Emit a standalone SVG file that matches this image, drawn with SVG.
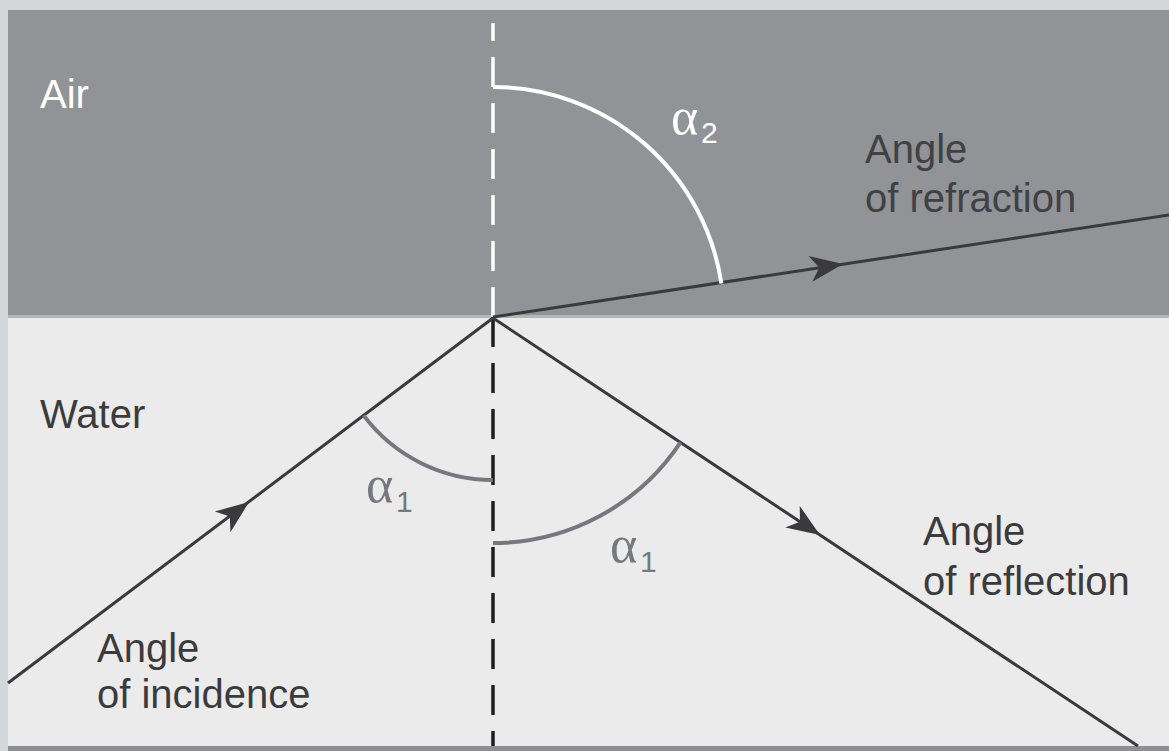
<svg xmlns="http://www.w3.org/2000/svg" width="1169" height="751" viewBox="0 0 1169 751">
  <defs>
    <style>
      .lbl { font-family: "Liberation Sans", Arial, sans-serif; font-size: 40px; fill: #3b3b3d; }
      .alpha { font-family: "Liberation Serif", "Times New Roman", serif; font-size: 52px; }
      .sub { font-family: "Liberation Sans", Arial, sans-serif; font-size: 30px; }
      .ray { stroke: #3a3a3c; stroke-width: 3; fill: none; }
      .arr { fill: #3a3a3c; }
    </style>
    <path id="ah" d="M0,0 L-33,-13 L-24,0 L-33,13 Z"/>
  </defs>

  <!-- background / panels -->
  <rect x="0" y="0" width="1169" height="751" fill="#d5d6d8"/>
  <rect x="8" y="10" width="1161" height="306" fill="#929397"/>
  <rect x="8" y="315" width="1161" height="3" fill="#b4b5b8"/>
  <rect x="8" y="318" width="1161" height="428" fill="#ebebeb"/>
  <rect x="8" y="746" width="1161" height="5" fill="#8e8f92"/>

  <g id="normal">
    <line x1="493" y1="23" x2="493" y2="41" stroke="#ffffff" stroke-width="3.5"/>
    <line x1="493" y1="57" x2="493" y2="317" stroke="#ffffff" stroke-width="3.5" stroke-dasharray="30 16"/>
    <line x1="493" y1="317" x2="493" y2="746" stroke="#1e1e1e" stroke-width="3.5" stroke-dasharray="30 16"/>
  </g>

  <g id="connectors">
    <line class="ray" x1="8" y1="683" x2="493" y2="318"/>
    <line class="ray" x1="493" y1="317" x2="1169" y2="215"/>
    <line class="ray" x1="493" y1="318" x2="1138" y2="746"/>
    <use href="#ah" class="arr" transform="translate(249,502) rotate(-36.96)"/>
    <use href="#ah" class="arr" transform="translate(843,264) rotate(-8.58)"/>
    <use href="#ah" class="arr" transform="translate(820,535) rotate(33.57)"/>
  </g>

  <g id="arcs">
    <path d="M493,87 A231,231 0 0,1 721.4,283.5" fill="none" stroke="#ffffff" stroke-width="4"/>
    <path d="M363.6,415.4 A162,162 0 0,0 493,480" fill="none" stroke="#77787b" stroke-width="4"/>
    <path d="M493,543 A225,225 0 0,0 680.5,442.4" fill="none" stroke="#77787b" stroke-width="4"/>
  </g>

  <g id="air-label">
    <text x="40" y="108" class="lbl" style="fill:#ffffff">Air</text>
  </g>
  <g id="water-label">
    <text x="40" y="428" class="lbl">Water</text>
  </g>
  <g id="refraction-label">
    <text x="865" y="163" class="lbl" style="fill:#3f4145">Angle</text>
    <text x="865" y="212" class="lbl" style="fill:#3f4145">of refraction</text>
  </g>
  <g id="incidence-label">
    <text x="97" y="662" class="lbl">Angle</text>
    <text x="97" y="708" class="lbl">of incidence</text>
  </g>
  <g id="reflection-label">
    <text x="923" y="545" class="lbl">Angle</text>
    <text x="923" y="595" class="lbl">of reflection</text>
  </g>

  <g id="alpha2" fill="#ffffff">
    <text x="671" y="134" class="alpha">α</text>
    <text x="701" y="143" class="sub">2</text>
  </g>
  <g id="alpha1-left" fill="#77787b">
    <text x="366" y="502" class="alpha">α</text>
    <text x="396" y="512" class="sub">1</text>
  </g>
  <g id="alpha1-right" fill="#77787b">
    <text x="610" y="562" class="alpha">α</text>
    <text x="640" y="572" class="sub">1</text>
  </g>
</svg>
